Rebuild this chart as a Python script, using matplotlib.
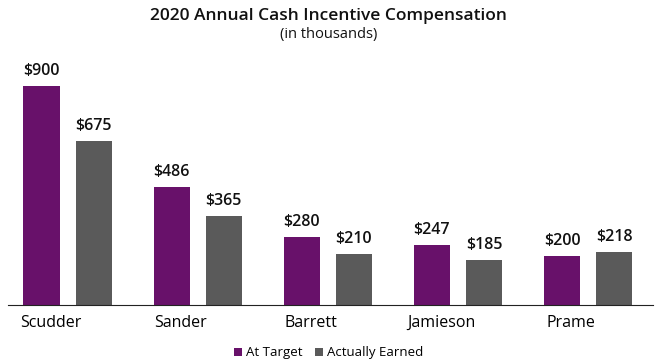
import numpy as np
import matplotlib.pyplot as plt

names = ["Scudder", "Sander", "Barrett", "Jamieson", "Prame"]
at_target = [900, 486, 280, 247, 200]
actually_earned = [675, 365, 210, 185, 218]
series_labels = ["At Target", "Actually Earned"]

purple = "#68116a"
gray = "#5a5a5a"

plt.rcParams['font.family'] = ['Open Sans', 'DejaVu Sans']

fig = plt.figure(figsize=(6.57, 3.62), dpi=100)
ax = fig.add_axes([0.012, 0.157, 0.982, 0.68])

x = np.arange(len(names))
w = 0.28
off = 0.2
b1 = ax.bar(x - off, at_target, w, color=purple, label=series_labels[0])
b2 = ax.bar(x + off, actually_earned, w, color=gray, label=series_labels[1])

for bars in (b1, b2):
    for r in bars:
        ax.annotate("$%d" % r.get_height(), (r.get_x() + r.get_width() / 2, r.get_height()),
                    xytext=(0, 5), textcoords="offset points", ha="center", va="bottom",
                    fontsize=11.5, fontweight="semibold", color="#111111")

ax.set_xlim(-0.46, 4.5)
ax.set_ylim(0, 1010)
ax.set_xticks(x - 0.13)
ax.set_xticklabels(names, fontsize=11.5)
ax.tick_params(axis="x", length=0, pad=7)
ax.set_yticks([])
for s in ["top", "right", "left"]:
    ax.spines[s].set_visible(False)
ax.spines["bottom"].set_color("#222222")

fig.text(0.5, 0.955, "2020 Annual Cash Incentive Compensation", ha="center", va="center",
         fontsize=12.5, fontweight="semibold", color="#111111")
fig.text(0.5, 0.905, "(in thousands)", ha="center", va="center", fontsize=10.5, color="#111111")

fig.legend(loc="center", bbox_to_anchor=(0.5, 0.025), ncol=2, frameon=False, fontsize=9.5,
           handlelength=0.6, handleheight=0.6, handletextpad=0.3, columnspacing=1.0)

fig.savefig("out.png", dpi=100)
